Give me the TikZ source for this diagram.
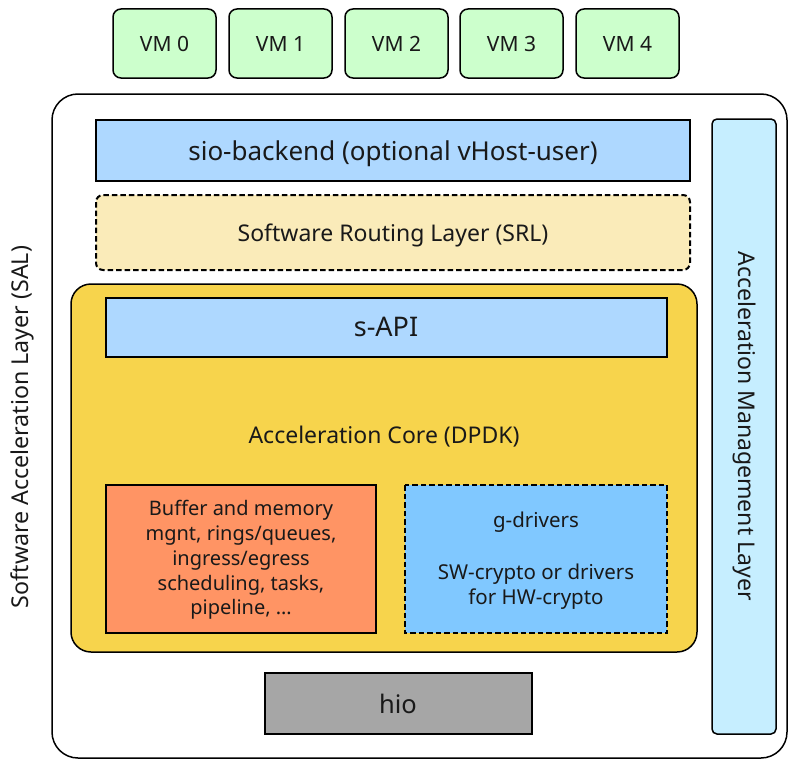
\documentclass[tikz,border=0pt]{standalone}
\usepackage{fontspec}
\setmainfont{Noto Sans}
\begin{document}
\begin{tikzpicture}[x=1pt,y=-1pt,
  box/.style={draw=black,line width=1.5pt,inner sep=0pt,outer sep=0pt},
  dashbox/.style={box,line width=2pt,dash pattern=on 5.5pt off 3pt},
  vm/.style={box,rounded corners=8pt,fill=vmgreen},
  lbl/.style={inner sep=0pt,align=center,text=black!90},
  bl/.style={lbl,anchor=base}]
\definecolor{vmgreen}{HTML}{CCFFCC}
\definecolor{sioblue}{HTML}{AED8FF}
\definecolor{srlyellow}{HTML}{FAEBB9}
\definecolor{coreyellow}{HTML}{F7D44C}
\definecolor{bufsalmon}{HTML}{FF9464}
\definecolor{gdrvblue}{HTML}{80C8FF}
\definecolor{hiogray}{HTML}{A6A6A6}
\definecolor{amlblue}{HTML}{C6EEFF}
\useasboundingbox (0,0) rectangle (789,760);

% virtual machines
\foreach \i/\x in {0/113,1/229,2/345,3/460,4/576}{
  \draw[vm] (\x,9) rectangle +(103,69);
  \node[bl,font=\fontsize{21}{24}\selectfont] (vm\i) at (\x+51.5,51.5) {VM \i};
}

% software acceleration layer frame
\draw[box,rounded corners=26pt] (52,94) rectangle (787,758);
\node[lbl,rotate=90,font=\fontsize{23.2}{26}\selectfont] (sal) at (22,427) {Software Acceleration Layer (SAL)};

% sio-backend
\draw[box,fill=sioblue] (96,120) rectangle (690,181);
\node[bl,font=\fontsize{26}{30}\selectfont] (sio) at (393,160) {sio-backend (optional vHost-user)};

% software routing layer
\draw[dashbox,rounded corners=7pt,fill=srlyellow] (96,195) rectangle (690,270);
\node[bl,font=\fontsize{23}{26}\selectfont] (srl) at (393,241) {Software Routing Layer (SRL)};

% acceleration core
\draw[box,rounded corners=20pt,fill=coreyellow] (71,284) rectangle (697,652);
\node[bl,font=\fontsize{23}{26}\selectfont] (core) at (384,443) {Acceleration Core (DPDK)};

% s-API
\draw[box,fill=sioblue] (106,298) rectangle (667,357);
\node[bl,font=\fontsize{27}{30}\selectfont] (sapi) at (386,336) {s-API};

% buffers and scheduling
\draw[box,fill=bufsalmon] (106,485) rectangle (376,633);
\node[lbl,font=\fontsize{20}{24.75}\selectfont] (buf) at (241,560)
  {Buffer and memory\\mgnt, rings/queues,\\ingress/egress\\scheduling, tasks,\\pipeline, \ldots};

% generic drivers
\draw[dashbox,fill=gdrvblue] (405,485) rectangle (667,633);
\node[bl,font=\fontsize{20.5}{24}\selectfont] (gdrv) at (536,527) {g-drivers};
\node[bl,font=\fontsize{20.5}{25}\selectfont] (crypto1) at (536,579) {SW-crypto or drivers};
\node[bl,font=\fontsize{20.5}{25}\selectfont] (crypto2) at (536,604) {for HW-crypto};

% hio
\draw[box,fill=hiogray] (265,673) rectangle (532,734);
\node[bl,font=\fontsize{25.5}{30}\selectfont] (hio) at (398,713) {hio};

% acceleration management layer
\draw[box,rounded corners=5pt,fill=amlblue] (712,119) rectangle (776,734);
\node[lbl,rotate=-90,font=\fontsize{23}{26}\selectfont] (aml) at (744,426) {Acceleration Management Layer};
\end{tikzpicture}
\end{document}
